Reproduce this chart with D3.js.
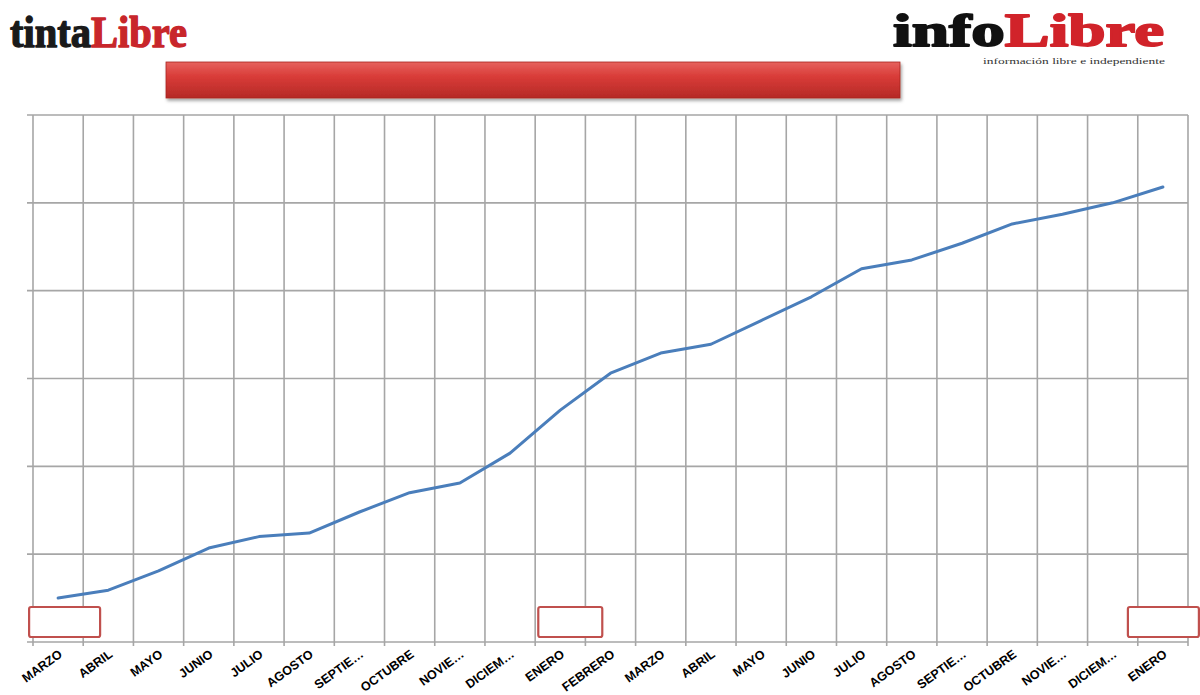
<!DOCTYPE html>
<html>
<head>
<meta charset="utf-8">
<script src="https://cdn.jsdelivr.net/npm/d3@7"></script>
<style>
  html, body { margin: 0; padding: 0; background: #fff; }
  svg { display: block; }
</style>
</head>
<body>
<svg id="chart" width="1200" height="695"></svg>
<script>
// ---- data ----
const months = ["MARZO","ABRIL","MAYO","JUNIO","JULIO","AGOSTO","SEPTIE…","OCTUBRE","NOVIE…","DICIEM…","ENERO","FEBRERO",
                "MARZO","ABRIL","MAYO","JUNIO","JULIO","AGOSTO","SEPTIE…","OCTUBRE","NOVIE…","DICIEM…","ENERO"];
const values = [0.50,0.59,0.81,1.07,1.20,1.24,1.48,1.70,1.81,2.15,2.64,3.06,
                3.29,3.39,3.66,3.93,4.25,4.35,4.54,4.76,4.87,5.00,5.18];
const yTicks = [0,1,2,3,4,5,6];
const markedIdx = [0,10,22];

(function () {
// ---- layout ----
const svg = d3.select("#chart");
const pL = 33, pR = 1188, pT = 115, pB = 642;

const x = d3.scaleBand().domain(d3.range(months.length)).range([pL, pR]).paddingInner(0).paddingOuter(0);
const y = d3.scaleLinear().domain([0, 6]).range([pB, pT]);
const bw = x.bandwidth();

// defs
const defs = svg.append("defs");
const grad = defs.append("linearGradient").attr("id","barGrad").attr("x1",0).attr("y1",0).attr("x2",0).attr("y2",1);
grad.append("stop").attr("offset","0%").attr("stop-color","#e6625e");
grad.append("stop").attr("offset","40%").attr("stop-color","#d93c38");
grad.append("stop").attr("offset","100%").attr("stop-color","#b52926");
const filt = defs.append("filter").attr("id","shadow").attr("x","-5%").attr("y","-30%").attr("width","110%").attr("height","180%");
filt.append("feDropShadow").attr("dx",1.5).attr("dy",2.5).attr("stdDeviation",1.5).attr("flood-color","#000").attr("flood-opacity",0.35);

// logos
const logoL = svg.append("text").attr("x",10).attr("y",47)
  .attr("font-family","Liberation Serif, DejaVu Serif, serif").attr("font-weight","bold")
  .attr("font-size",44).attr("textLength",177).attr("lengthAdjust","spacingAndGlyphs")
  .attr("stroke-width",1.4).attr("stroke-linejoin","round");
logoL.append("tspan").attr("fill","#1a1a1a").attr("stroke","#1a1a1a").text("tinta");
logoL.append("tspan").attr("fill","#c8262b").attr("stroke","#c8262b").text("Libre");

const logoR = svg.append("text").attr("x",893).attr("y",46)
  .attr("font-family","Liberation Serif, DejaVu Serif, serif").attr("font-weight","bold")
  .attr("font-size",46).attr("textLength",271).attr("lengthAdjust","spacingAndGlyphs")
  .attr("stroke-width",1.8).attr("stroke-linejoin","round");
logoR.append("tspan").attr("fill","#111").attr("stroke","#111").text("info");
logoR.append("tspan").attr("fill","#d1232a").attr("stroke","#d1232a").text("Libre");
svg.append("text").attr("x",983).attr("y",64)
  .attr("font-family","Liberation Serif, DejaVu Serif, serif").attr("font-size",8.5)
  .attr("textLength",182).attr("lengthAdjust","spacingAndGlyphs")
  .attr("fill","#333").text("información libre e independiente");

// title bar
svg.append("rect").attr("x",166).attr("y",62).attr("width",734).attr("height",36)
  .attr("fill","url(#barGrad)").attr("stroke","#a82420").attr("stroke-width",0.8)
  .attr("filter","url(#shadow)");

// grid
const grid = svg.append("g");
grid.selectAll("line.h").data(yTicks).join("line")
  .attr("x1", pL - 6).attr("x2", pR)
  .attr("y1", d => y(d)).attr("y2", d => y(d))
  .attr("stroke","#a6a6a6").attr("stroke-width",1.6);
const vb = d3.range(months.length + 1).map(i => i < months.length ? x(i) : x(months.length-1) + bw);
grid.selectAll("line.v").data(vb).join("line")
  .attr("x1", d => d).attr("x2", d => d)
  .attr("y1", pT).attr("y2", pB + 4)
  .attr("stroke","#a6a6a6").attr("stroke-width",1.6);

// line
const line = d3.line().x((d,i) => x(i) + bw/2).y(d => y(d));
svg.append("path").datum(values).attr("d", line)
  .attr("fill","none").attr("stroke","#4a7ebb").attr("stroke-width",3)
  .attr("stroke-linejoin","round").attr("stroke-linecap","round");

// marker boxes
const boxW = [71, 64, 71];
const boxOff = [-29, -22, -35];
svg.append("g").selectAll("rect").data(markedIdx).join("rect")
  .attr("x", (d,i) => x(d) + bw/2 + boxOff[i])
  .attr("y", y(0) - 35).attr("width", (d,i) => boxW[i]).attr("height", 30)
  .attr("rx", 2).attr("fill","#fff").attr("stroke","#c0504d").attr("stroke-width",2.2);

// x labels
svg.append("g").selectAll("text").data(months).join("text")
  .attr("transform", (d,i) => `translate(${x(i) + bw/2 + 5},${pB + 14}) rotate(-36)`)
  .attr("text-anchor","end")
  .attr("font-family","Liberation Sans, Arial, sans-serif").attr("font-weight","bold")
  .attr("font-size",12.5).attr("fill","#000")
  .text(d => d);
})();
</script>
</body>
</html>
